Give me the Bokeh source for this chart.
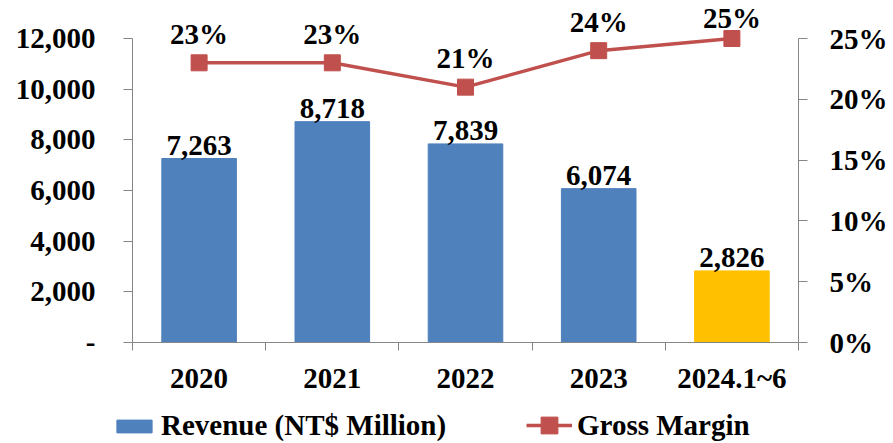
from bokeh.plotting import figure
from bokeh.layouts import column
from bokeh.models import (LinearAxis, Range1d, FixedTicker, NumeralTickFormatter,
                          Legend, LegendItem, ColumnDataSource)
from bokeh.core.properties import value
from bokeh.embed import file_html
from bokeh.resources import INLINE

categories = ["2020", "2021", "2022", "2023", "2024.1~6"]
revenue = [7263, 8718, 7839, 6074, 2826]
gross_margin = [0.23, 0.23, 0.21, 0.24, 0.25]
revenue_labels = ["7,263", "8,718", "7,839", "6,074", "2,826"]
margin_labels = ["23%", "23%", "21%", "24%", "25%"]
bar_colors = ["#4F81BD", "#4F81BD", "#4F81BD", "#4F81BD", "#FFC000"]
left_ticks = [0, 2000, 4000, 6000, 8000, 10000, 12000]
right_ticks = [0, 0.05, 0.10, 0.15, 0.20, 0.25]
series_names = ["Revenue (NT$ Million)", "Gross Margin"]

FONT = "Liberation Serif"
FS = "29px"
BLUE, RED = "#4F81BD", "#C0504D"
xs = [i + 0.5 for i in range(len(categories))]

W, H = 890, 400
F_LEFT, F_RIGHT, F_TOP_AXIS, F_BOTTOM, F_TOP = 132, 801, 38, 342, 0
LMAX, RMAX = 12000, 0.25
ext = (F_BOTTOM - F_TOP) / (F_BOTTOM - F_TOP_AXIS)
px_per_pct = (F_BOTTOM - F_TOP_AXIS) / RMAX

# label offsets: 29px above marker, pushed down when it would leave the chart (as Excel does)
gm_offsets = [-min(29, (F_BOTTOM - g * px_per_pct) - 17) for g in gross_margin]

src = ColumnDataSource(dict(x=xs, rev=revenue, gm=gross_margin, rl=revenue_labels,
                            ml=margin_labels, color=bar_colors, gmo=gm_offsets))

p = figure(width=W, height=H, output_backend="svg", toolbar_location=None,
           x_range=Range1d(0, len(categories)), y_range=Range1d(0, LMAX * ext),
           min_border_left=F_LEFT, min_border_right=W - F_RIGHT, min_border_top=F_TOP,
           min_border_bottom=H - F_BOTTOM)
p.frame_align = False
p.xaxis.visible = False
p.yaxis.visible = False
p.xgrid.visible = False
p.ygrid.visible = False
p.outline_line_color = None

p.extra_y_ranges = {"pct": Range1d(0, RMAX * ext)}

AX = "#868686"

la = LinearAxis(ticker=FixedTicker(ticks=left_ticks, minor_ticks=[]),
                formatter=NumeralTickFormatter(format="0,0"),
                major_label_overrides={0: "-"}, bounds=(0, LMAX))
ba = LinearAxis(ticker=FixedTicker(ticks=xs, minor_ticks=list(range(len(categories) + 1))),
                major_label_overrides={x: c for x, c in zip(xs, categories)})
ra = LinearAxis(y_range_name="pct",
                ticker=FixedTicker(ticks=right_ticks, minor_ticks=[]),
                formatter=NumeralTickFormatter(format="0%"), bounds=(0, RMAX))

for ax in (la, ba, ra):
    ax.axis_line_color = AX
    ax.major_tick_line_color = AX
    ax.minor_tick_line_color = AX
    ax.major_label_text_font = FONT
    ax.major_label_text_font_style = "bold"
    ax.major_label_text_font_size = FS
    ax.major_label_text_color = "black"
    ax.major_tick_in = 0
    ax.minor_tick_in = 0

la.major_tick_out = 9
la.major_label_standoff = 28
ra.major_tick_out = 9
ra.major_label_standoff = 22
ba.major_tick_out = 8
ba.major_tick_line_color = None
ba.minor_tick_out = 8
ba.major_label_standoff = 11

p.add_layout(la, "left")
p.add_layout(ra, "right")
p.add_layout(ba, "below")

p.vbar(x="x", top="rev", width=0.56, color="color", source=src)
p.line(x="x", y="gm", y_range_name="pct", line_color=RED, line_width=3.5, source=src)
p.scatter(x="x", y="gm", y_range_name="pct", marker="square", size=16,
          fill_color=RED, line_color=RED, source=src)

p.text(x="x", y="rev", text="rl", source=src, text_align="center",
       text_baseline="middle", y_offset=-13, text_font=value(FONT),
       text_font_style="bold", text_font_size=FS, text_color="black")
p.text(x="x", y="gm", text="ml", source=src, y_range_name="pct", text_align="center",
       text_baseline="middle", y_offset="gmo", text_font=value(FONT),
       text_font_style="bold", text_font_size=FS, text_color="black")

# legend strip (its frame covers the whole strip)
LH = 42
q = figure(width=W, height=LH, output_backend="svg", toolbar_location=None,
           x_range=Range1d(0, 1), y_range=Range1d(0, 1),
           x_axis_location=None, y_axis_location=None,
           min_border_left=0, min_border_right=0,
           min_border_top=0, min_border_bottom=0)
q.frame_align = False
q.xgrid.visible = False
q.ygrid.visible = False
q.outline_line_color = None

# hidden proxies; only their legend glyphs show
r_bar = q.vbar(x="x", top="rev", width=0.5, color=BLUE, source=src, visible=False)
r_line = q.line(x="x", y="gm", line_color=RED, line_width=3.5, source=src, visible=False)
r_pts = q.scatter(x="x", y="gm", marker="square", size=16, fill_color=RED,
                  line_color=RED, source=src, visible=False)

def mk_legend(items, loc, gw, gh):
    lg = Legend(items=items, location=loc, orientation="horizontal",
                border_line_color=None, background_fill_alpha=0,
                inactive_fill_alpha=0, click_policy="none",
                padding=0, margin=0, spacing=0,
                glyph_width=gw, glyph_height=gh, label_standoff=5,
                label_text_font=FONT, label_text_font_style="bold",
                label_text_font_size=FS, label_text_color="black")
    q.add_layout(lg, "center")

mk_legend([LegendItem(label=series_names[0], renderers=[r_bar])], (112, 0), 44, 16)
mk_legend([LegendItem(label=series_names[1], renderers=[r_line, r_pts])], (526, -4), 46, 42)

open("out.html", "w").write(file_html(column(p, q, spacing=0), INLINE))
